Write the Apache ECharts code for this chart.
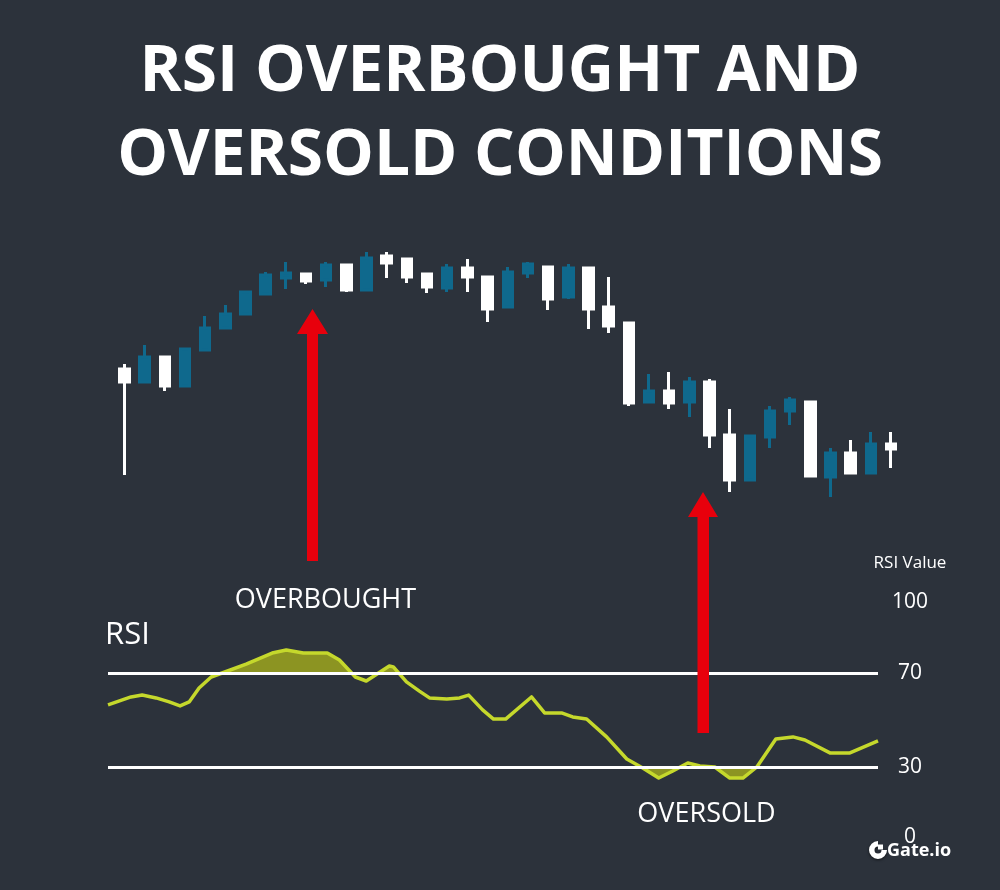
<!DOCTYPE html>
<html>
<head>
<meta charset="utf-8">
<title>RSI Overbought and Oversold Conditions</title>
<script src="https://cdn.jsdelivr.net/npm/echarts@6.0.0/dist/echarts.min.js"></script>
<style>
  html, body { margin: 0; padding: 0; background: #2c323b; }
  #main { width: 1000px; height: 890px; }
</style>
</head>
<body>
<div id="main"></div>
<script>
// price candles (arbitrary price units)
const opens  = [141, 128, 153, 124, 160, 182, 196, 216, 232, 236, 230, 245, 220, 254, 251, 236, 222, 242, 233, 203,
                237, 243, 213, 242, 203, 187, 108, 119, 108, 128, 75, 30, 73, 99, 108, 33, 57, 37, 66];
const closes = [128, 153, 124, 161, 182, 196, 218, 235, 237, 229, 245, 220, 252, 247, 233, 223, 242, 233, 201, 238,
                246, 211, 242, 201, 184, 107, 119, 107, 128, 75, 30, 74, 99, 110, 34, 57, 37, 66, 61];
const lows   = [35, 128, 119, 124, 160, 182, 196, 216, 221, 226, 223, 218, 220, 232, 227, 217, 218, 218, 188, 203,
                232, 200, 211, 181, 177, 104, 108, 101, 93, 62, 18, 30, 62, 85, 34, 13, 37, 37, 42];
const highs  = [146, 165, 153, 161, 194, 205, 218, 238, 248, 236, 248, 245, 258, 258, 251, 236, 246, 251, 233, 243,
                248, 243, 246, 242, 233, 187, 136, 138, 133, 131, 101, 74, 104, 113, 108, 62, 70, 78, 78];
const days = opens.map((_, i) => 'Day ' + (i + 1));

// RSI line: time (in candle periods) and value
const rsiTime = [-0.77, 0.37, 0.92, 1.61, 2.26, 2.80, 3.25, 3.74, 4.34, 4.88, 6.07, 7.36, 8.06, 8.90, 10.09, 10.69,
                 11.48, 12.02, 13.16, 13.36, 14.01, 14.65, 15.15, 16.01, 16.64, 17.09, 17.78, 18.32, 18.92, 20.20,
                 20.85, 21.69, 22.24, 22.93, 23.92, 24.92, 25.71, 26.50, 27.20, 27.94, 28.54, 29.28, 30.02, 30.67,
                 31.36, 32.30, 33.15, 33.74, 34.98, 35.97, 37.36];
const rsiValue = [56.4, 59.8, 60.6, 59.4, 57.7, 56.0, 57.7, 63.6, 68.3, 70.0, 73.8, 78.5, 79.8, 78.5, 78.5, 75.5,
                  68.3, 66.6, 73.0, 72.6, 66.2, 62.3, 59.4, 58.9, 59.4, 60.6, 54.3, 50.4, 50.4, 59.8,
                  53.0, 53.0, 51.3, 50.4, 42.8, 33.4, 29.6, 25.3, 28.3, 31.7, 30.4, 30.0, 25.3, 25.3,
                  30.0, 41.9, 42.8, 41.5, 36.0, 36.0, 41.1];
const rsiTicks = [0, 30, 70, 100];
const overbought = 70;
const oversold = 30;

const BLUE = '#0f698d';
const WHITE = '#ffffff';
const LIME = '#c5d82c';
const OLIVE = '#8c9422';
const RED = '#e8000c';
const FONT = '"Open Sans", "Noto Sans", sans-serif';

const candleData = opens.map((o, i) => [o, closes[i], lows[i], highs[i]]);
const rsiData = rsiTime.map((t, i) => [t, rsiValue[i]]);

const chart = echarts.init(document.getElementById('main'));

const rsiX = (idx) => ({ type: 'value', gridIndex: idx, min: -0.77, max: 37.36, show: false });

const option = {
  backgroundColor: '#2c323b',
  animation: false,
  title: {
    text: 'RSI OVERBOUGHT AND\nOVERSOLD CONDITIONS',
    left: 'center',
    top: 26,
    textStyle: { color: WHITE, fontFamily: FONT, fontWeight: 'bold', fontSize: 64, lineHeight: 84 }
  },
  grid: [
    { left: 114.4, width: 786.7, top: 240, height: 270 },   // candles
    { left: 108, width: 770, top: 602.5, height: 235 },     // rsi 0..100
    { left: 108, width: 770, top: 602.5, height: 70.5 },    // rsi 70..100
    { left: 108, width: 770, top: 767, height: 70.5 }       // rsi 0..30
  ],
  xAxis: [
    { type: 'category', gridIndex: 0, data: days, show: false },
    rsiX(1), rsiX(2), rsiX(3)
  ],
  yAxis: [
    { type: 'value', gridIndex: 0, min: 0, max: 270, show: false },
    {
      type: 'value', gridIndex: 1, min: 0, max: 100, interval: 10, position: 'right',
      axisLine: { show: false }, axisTick: { show: false }, splitLine: { show: false },
      axisLabel: {
        color: WHITE, fontFamily: FONT, fontSize: 21, margin: 32, align: 'center',
        formatter: (v) => (rsiTicks.indexOf(v) >= 0 ? String(v) : '')
      }
    },
    { type: 'value', gridIndex: 2, min: overbought, max: 100, show: false },
    { type: 'value', gridIndex: 3, min: 0, max: oversold, show: false }
  ],
  series: [
    {
      type: 'candlestick',
      xAxisIndex: 0, yAxisIndex: 0,
      data: candleData,
      barWidth: 10,
      itemStyle: { color: BLUE, color0: WHITE, borderColor: BLUE, borderColor0: WHITE, borderWidth: 3 }
    },
    {
      // overbought fill, clipped to the 70..100 band
      type: 'line', xAxisIndex: 2, yAxisIndex: 2, data: rsiData, z: 1,
      showSymbol: false, silent: true, clip: true,
      lineStyle: { width: 0 },
      areaStyle: { color: OLIVE, opacity: 1, origin: 'start' }
    },
    {
      // oversold fill, clipped to the 0..30 band
      type: 'line', xAxisIndex: 3, yAxisIndex: 3, data: rsiData, z: 1,
      showSymbol: false, silent: true, clip: true,
      lineStyle: { width: 0 },
      areaStyle: { color: OLIVE, opacity: 1, origin: 'end' }
    },
    {
      // 70 / 30 guide lines
      type: 'line', xAxisIndex: 1, yAxisIndex: 1, data: rsiData, z: 2,
      showSymbol: false, silent: true,
      lineStyle: { width: 0 },
      markLine: {
        silent: true, symbol: 'none', animation: false,
        label: { show: false },
        lineStyle: { color: WHITE, width: 3, type: 'solid' },
        data: [{ yAxis: overbought }, { yAxis: oversold }]
      }
    },
    {
      name: 'RSI',
      type: 'line', xAxisIndex: 1, yAxisIndex: 1, data: rsiData, z: 3,
      showSymbol: false,
      lineStyle: { color: LIME, width: 3.5, join: 'round' }
    }
  ],
  graphic: [
    {
      type: 'polygon', z: 100,
      shape: { points: [[307, 561], [307, 334], [297, 334], [312.5, 309], [328, 334], [318, 334], [318, 561]] },
      style: { fill: RED }
    },
    {
      type: 'polygon', z: 100,
      shape: { points: [[697.5, 733], [697.5, 517], [688, 517], [703, 492], [718, 517], [709, 517], [709, 733]] },
      style: { fill: RED }
    },
    { type: 'text', x: 325.5, y: 600, z: 50,
      style: { text: 'OVERBOUGHT', fill: WHITE, font: '27px ' + FONT, textAlign: 'center', textVerticalAlign: 'middle' } },
    { type: 'text', x: 706.5, y: 814, z: 50,
      style: { text: 'OVERSOLD', fill: WHITE, font: '27px ' + FONT, textAlign: 'center', textVerticalAlign: 'middle' } },
    { type: 'text', x: 105, y: 635, z: 50,
      style: { text: 'RSI', fill: WHITE, font: '31px ' + FONT, textAlign: 'left', textVerticalAlign: 'middle' } },
    { type: 'text', x: 910, y: 563, z: 50,
      style: { text: 'RSI Value', fill: WHITE, font: '17px ' + FONT, textAlign: 'center', textVerticalAlign: 'middle' } },
    // Gate.io mark
    {
      type: 'sector', z: 60,
      shape: { cx: 878, cy: 850, r: 9, r0: 3.5, startAngle: 0, endAngle: Math.PI * 1.5, clockwise: true },
      style: { fill: WHITE, shadowBlur: 3, shadowColor: 'rgba(0,0,0,0.6)', shadowOffsetY: 1 }
    },
    { type: 'rect', z: 60, shape: { x: 878, y: 844.5, width: 5, height: 5 }, style: { fill: WHITE } },
    { type: 'text', x: 887, y: 851, z: 60,
      style: { text: 'Gate.io', fill: WHITE, font: 'bold 18px ' + FONT, textAlign: 'left', textVerticalAlign: 'middle',
               shadowBlur: 3, shadowColor: 'rgba(0,0,0,0.6)', shadowOffsetY: 1 } }
  ]
};

chart.setOption(option);
</script>
</body>
</html>
